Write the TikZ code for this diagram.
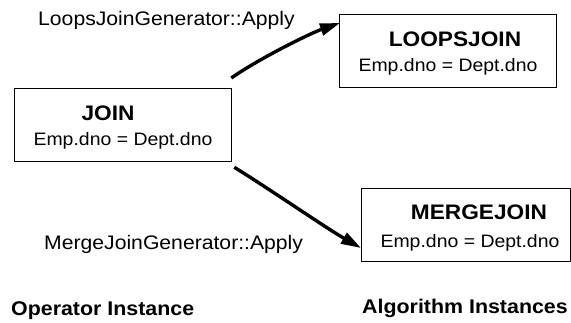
\documentclass[tikz,border=0pt]{standalone}
\usepackage{fontspec}
\setmainfont{Liberation Sans}[FakeStretch=1.08]
\usetikzlibrary{arrows.meta,calc}
\tikzset{
  opbox/.style={draw, line width=1.3pt, inner sep=0pt},
  title/.style={font=\fontsize{21}{24}\selectfont\bfseries, anchor=base, inner sep=0pt},
  pred/.style={font=\fontsize{18}{21}\selectfont, anchor=base, inner sep=0pt},
  genlabel/.style={font=\fontsize{19.6}{23}\selectfont, anchor=base west, inner sep=0pt},
  caption/.style={font=\fontsize{19.8}{23}\selectfont\bfseries, anchor=base west, inner sep=0pt},
  apply/.style={line width=3.4pt, -{Triangle[length=20pt,width=12pt]}}
}
\begin{document}
\begin{tikzpicture}[x=1pt,y=-1pt]
\useasboundingbox (0,0) rectangle (571,322);

% operator and algorithm boxes
\node[opbox, minimum width=217pt, minimum height=73pt, anchor=north west] (join) at (14,88) {};
\node[opbox, minimum width=217pt, minimum height=73pt, anchor=north west] (loops) at (339,14) {};
\node[opbox, minimum width=209pt, minimum height=73pt, anchor=north west] (merge) at (361,188) {};

% box contents
\node[title] (jointitle) at (108,120) {JOIN};
\node[pred]  (joinpred)  at (123,145) {Emp.dno = Dept.dno};
\node[title] (loopstitle) at (455,46) {LOOPSJOIN};
\node[pred]  (loopspred)  at (448,71) {Emp.dno = Dept.dno};
\node[title] (mergetitle) at (479,219) {MERGEJOIN};
\node[pred]  (mergepred)  at (470,247) {Emp.dno = Dept.dno};

% generator labels
\node[genlabel] (loopsgen) at (38,25) {LoopsJoinGenerator::Apply};
\node[genlabel] (mergegen) at (44,249) {MergeJoinGenerator::Apply};

% column captions
\node[caption] (opcap)  at (11,315) {Operator Instance};
\node[caption] (algcap) at (362,313) {Algorithm Instances};

% generator arrows
\draw[apply] ($(join.north east)+(-1,-10)$) .. controls (260,58) and (311,33) .. ($(loops.north west)+(1,9)$);
\draw[apply] ($(join.south east)+(2,5)$) .. controls (268,188) and (326,228) .. ($(merge.north west)+(0,60)$);
\end{tikzpicture}
\end{document}
